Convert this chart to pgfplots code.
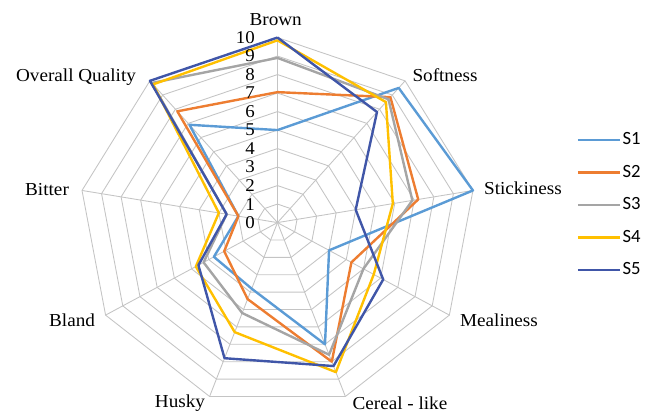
\documentclass[border=0pt]{standalone}
\usepackage{fontspec}
\setmainfont{Liberation Serif}
\newfontfamily\legendfont{Carlito}
\usepackage{pgfplots}
\pgfplotsset{compat=1.18}
\usepgfplotslibrary{polar}
\definecolor{cS1}{HTML}{5B9BD5}
\definecolor{cS2}{HTML}{ED7D31}
\definecolor{cS3}{HTML}{A5A5A5}
\definecolor{cS4}{HTML}{FFC000}
\definecolor{cS5}{HTML}{4056A8}
\definecolor{gridc}{HTML}{C4C4C4}
\begin{document}
\begin{tikzpicture}
\useasboundingbox (0,0) rectangle (491.25pt,309.75pt);
\begin{axis}[
  scale only axis, width=491.25pt, height=309.75pt,
  xmin=-13.98, xmax=19.02, ymin=-10.29, ymax=12.03,
  hide axis, clip=false,
  every axis plot/.append style={line join=round},
  legend style={at={(axis description cs:0.880,0.683)}, anchor=north west, draw=none, fill=none,
    font=\legendfont\fontsize{14}{15}\selectfont, row sep=11.4pt, inner sep=0pt,
    nodes={inner sep=1.2pt}},
  legend cell align=left,
  legend image code/.code={\draw[#1] (0pt,0pt) -- (31.5pt,0pt);},
]
% grid
\addplot[gridc, line width=0.65pt, forget plot, data cs=polar] coordinates {(90,1) (50,1) (10,1) (-30,1) (-70,1) (-110,1) (-150,1) (170,1) (130,1) (90,1)};
\addplot[gridc, line width=0.65pt, forget plot, data cs=polar] coordinates {(90,2) (50,2) (10,2) (-30,2) (-70,2) (-110,2) (-150,2) (170,2) (130,2) (90,2)};
\addplot[gridc, line width=0.65pt, forget plot, data cs=polar] coordinates {(90,3) (50,3) (10,3) (-30,3) (-70,3) (-110,3) (-150,3) (170,3) (130,3) (90,3)};
\addplot[gridc, line width=0.65pt, forget plot, data cs=polar] coordinates {(90,4) (50,4) (10,4) (-30,4) (-70,4) (-110,4) (-150,4) (170,4) (130,4) (90,4)};
\addplot[gridc, line width=0.65pt, forget plot, data cs=polar] coordinates {(90,5) (50,5) (10,5) (-30,5) (-70,5) (-110,5) (-150,5) (170,5) (130,5) (90,5)};
\addplot[gridc, line width=0.65pt, forget plot, data cs=polar] coordinates {(90,6) (50,6) (10,6) (-30,6) (-70,6) (-110,6) (-150,6) (170,6) (130,6) (90,6)};
\addplot[gridc, line width=0.65pt, forget plot, data cs=polar] coordinates {(90,7) (50,7) (10,7) (-30,7) (-70,7) (-110,7) (-150,7) (170,7) (130,7) (90,7)};
\addplot[gridc, line width=0.65pt, forget plot, data cs=polar] coordinates {(90,8) (50,8) (10,8) (-30,8) (-70,8) (-110,8) (-150,8) (170,8) (130,8) (90,8)};
\addplot[gridc, line width=0.65pt, forget plot, data cs=polar] coordinates {(90,9) (50,9) (10,9) (-30,9) (-70,9) (-110,9) (-150,9) (170,9) (130,9) (90,9)};
\addplot[gridc, line width=0.65pt, forget plot, data cs=polar] coordinates {(90,10) (50,10) (10,10) (-30,10) (-70,10) (-110,10) (-150,10) (170,10) (130,10) (90,10)};
% spokes
\addplot[gridc, line width=0.65pt, forget plot, data cs=polar] coordinates {(90,0) (90,10)};
\addplot[gridc, line width=0.65pt, forget plot, data cs=polar] coordinates {(50,0) (50,10)};
\addplot[gridc, line width=0.65pt, forget plot, data cs=polar] coordinates {(10,0) (10,10)};
\addplot[gridc, line width=0.65pt, forget plot, data cs=polar] coordinates {(-30,0) (-30,10)};
\addplot[gridc, line width=0.65pt, forget plot, data cs=polar] coordinates {(-70,0) (-70,10)};
\addplot[gridc, line width=0.65pt, forget plot, data cs=polar] coordinates {(-110,0) (-110,10)};
\addplot[gridc, line width=0.65pt, forget plot, data cs=polar] coordinates {(-150,0) (-150,10)};
\addplot[gridc, line width=0.65pt, forget plot, data cs=polar] coordinates {(170,0) (170,10)};
\addplot[gridc, line width=0.65pt, forget plot, data cs=polar] coordinates {(130,0) (130,10)};
% data: Brown, Softness, Stickiness, Mealiness, Cereal-like, Husky, Bland, Bitter, Overall Quality
\addplot[cS1, line width=1.8pt, data cs=polar] coordinates {(90,5.0) (50,9.5) (10,10) (-30,3.0) (-70,7.0) (-110,3.8) (-150,3.7) (170,2.0) (130,6.9) (90,5.0)};
\addlegendentry{S1}
\addplot[cS2, line width=1.8pt, data cs=polar] coordinates {(90,7.05) (50,8.85) (10,7.2) (-30,4.3) (-70,8.0) (-110,4.4) (-150,3.1) (170,2.0) (130,7.85) (90,7.05)};
\addlegendentry{S2}
\addplot[cS3, line width=1.8pt, data cs=polar] coordinates {(90,8.9) (50,8.7) (10,6.9) (-30,5.0) (-70,7.6) (-110,5.2) (-150,4.3) (170,2.6) (130,9.85) (90,8.9)};
\addlegendentry{S3}
\addplot[cS4, line width=1.8pt, data cs=polar] coordinates {(90,9.85) (50,8.5) (10,5.9) (-30,5.6) (-70,8.6) (-110,6.3) (-150,4.75) (170,3.0) (130,9.75) (90,9.85)};
\addlegendentry{S4}
\addplot[cS5, line width=1.8pt, data cs=polar] coordinates {(90,10) (50,7.8) (10,4.0) (-30,6.15) (-70,8.25) (-110,7.8) (-150,4.6) (170,2.6) (130,10) (90,10)};
\addlegendentry{S5}
% radial tick labels
\begin{scope}[every node/.style={anchor=east, inner sep=0pt, font=\fontsize{13.5}{14}\selectfont, xscale=1.05}]
\node at (axis cs:-1.13,0) {0};
\node at (axis cs:-1.13,1) {1};
\node at (axis cs:-1.13,2) {2};
\node at (axis cs:-1.13,3) {3};
\node at (axis cs:-1.13,4) {4};
\node at (axis cs:-1.13,5) {5};
\node at (axis cs:-1.13,6) {6};
\node at (axis cs:-1.13,7) {7};
\node at (axis cs:-1.13,8) {8};
\node at (axis cs:-1.13,9) {9};
\node at (axis cs:-1.13,10) {10};
\end{scope}
% category labels
\begin{scope}[every node/.style={anchor=center, inner sep=0pt, font=\fontsize{13.7}{15}\selectfont, xscale=1.05}]
\node at (axis cs:-0.09,10.95) {Brown};
\node at (axis cs:8.44,7.98) {Softness};
\node at (axis cs:12.37,1.87) {Stickiness};
\node at (axis cs:11.16,-5.26) {Mealiness};
\node at (axis cs:6.17,-9.75) {Cereal - like};
\node at (axis cs:-4.91,-9.75) {Husky};
\node at (axis cs:-10.35,-5.26) {Bland};
\node at (axis cs:-11.61,1.76) {Bitter};
\node at (axis cs:-10.15,7.87) {Overall Quality};
\end{scope}
\end{axis}
\end{tikzpicture}
\end{document}
